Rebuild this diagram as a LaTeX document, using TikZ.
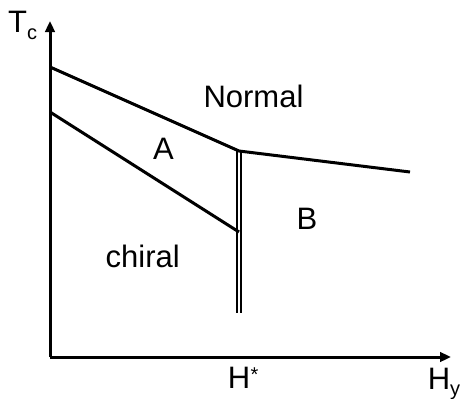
\documentclass[tikz,border=0pt]{standalone}
\usepackage{fontspec}
\setmainfont{Liberation Sans}
\usetikzlibrary{arrows.meta}
\begin{document}
\begin{tikzpicture}[x=1pt,y=-1pt,
  axis/.style={line width=3pt,-{Triangle[length=11pt,width=9.5pt]}},
  phase/.style={line width=3pt},
  lbl/.style={font=\fontsize{31}{33}\selectfont,inner sep=0pt,anchor=base},
  sub/.style={font=\fontsize{20}{22}\selectfont,inner sep=0pt,anchor=base west}]
\useasboundingbox (0,0) rectangle (461,399);
\coordinate (O) at (50,357);
\coordinate (Ytop) at (50,21);
\coordinate (Xend) at (451,357);
\coordinate (U0) at (50,67);
\coordinate (J) at (239,151);
\coordinate (U1) at (410,172);
\coordinate (L0) at (50,112);
\coordinate (L1) at (239,232);
\coordinate (D1) at (239,313);
\draw[axis] (O) -- (Ytop);
\draw[axis] (O) -- (Xend);
\draw[phase,line join=miter] (U0) -- (J) -- (U1);
\draw[phase] (L0) -- (L1);
\draw[line width=1.2pt] ([xshift=-2pt]J) -- ([xshift=-2pt]D1);
\draw[line width=1.2pt] ([xshift=2pt]J) -- ([xshift=2pt]D1);
\node[lbl,anchor=base west] (T) at (8,32) {T};
\node[sub] (c) at (27,39.5) {c};
\node[lbl] (Normal) at (253.5,107) {Normal};
\node[lbl] (A) at (163.5,159) {A};
\node[lbl] (B) at (307,229) {B};
\node[lbl] (chiral) at (142.7,267) {chiral};
\node[lbl,anchor=base west] (Hs) at (227.6,388) {H};
\node[sub] (star) at (250.5,381) {*};
\node[lbl,anchor=base west] (Hy) at (427.6,389) {H};
\node[sub] (y) at (450,395) {y};
\end{tikzpicture}
\end{document}
